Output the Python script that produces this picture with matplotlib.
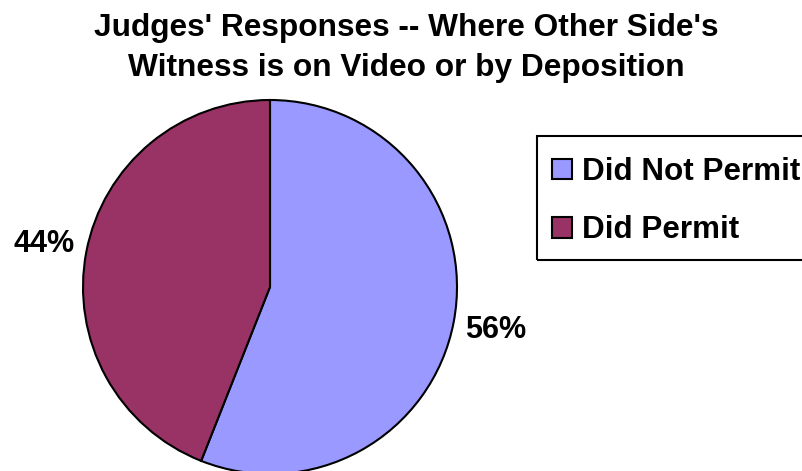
import matplotlib.pyplot as plt
from matplotlib.patches import Patch, Rectangle

labels = ['Did Not Permit', 'Did Permit']
shares = [56, 44]
colors = ['#9999FF', '#993366']

title = "Judges' Responses -- Where Other Side's\nWitness is on Video or by Deposition"

W, H = 803, 471
fig = plt.figure(figsize=(W / 100, H / 100), dpi=100)
plt.rcParams['font.family'] = ['Liberation Sans', 'DejaVu Sans']

# pie area: centre (270, 287) px from top-left, radius 187 px
cx, cy, r = 270, 287, 187
ax = fig.add_axes([(cx - r) / W, (H - cy - r) / H, 2 * r / W, 2 * r / H])
wedges, texts, autotexts = ax.pie(
    shares, colors=colors, startangle=90, counterclock=False,
    autopct='%1.0f%%', pctdistance=1.23,
    wedgeprops=dict(edgecolor='black', linewidth=1.5),
    textprops=dict(fontsize=22, fontweight='bold', color='black'))
for w in wedges:
    w.set_clip_on(False)
ax.set_xlim(-1, 1)
ax.set_ylim(-1, 1)
ax.set_aspect('equal')
ax.axis('off')

fig.text(406 / W, 1 - 13 / H, title, ha='center', va='top',
         fontsize=22.8, fontweight='bold', linespacing=1.45)

# legend entries, with the box drawn separately so it runs off the right edge
handles = [Patch(facecolor=c, edgecolor='black', linewidth=1.5) for c in colors]
leg = fig.legend(handles, labels, loc='upper left',
                 bbox_to_anchor=(537 / W, 1 - 142 / H),
                 prop=dict(size=22.6, weight='bold'),
                 handlelength=0.64, handleheight=0.64, handletextpad=0.32,
                 labelspacing=0.9, borderpad=0.48, borderaxespad=0,
                 frameon=False)
fig.add_artist(Rectangle((537 / W, 1 - 260 / H), (W - 527) / W, 124 / H,
                         transform=fig.transFigure, facecolor='none',
                         edgecolor='black', linewidth=1.5))

fig.savefig('out.png', dpi=100, facecolor='white')
